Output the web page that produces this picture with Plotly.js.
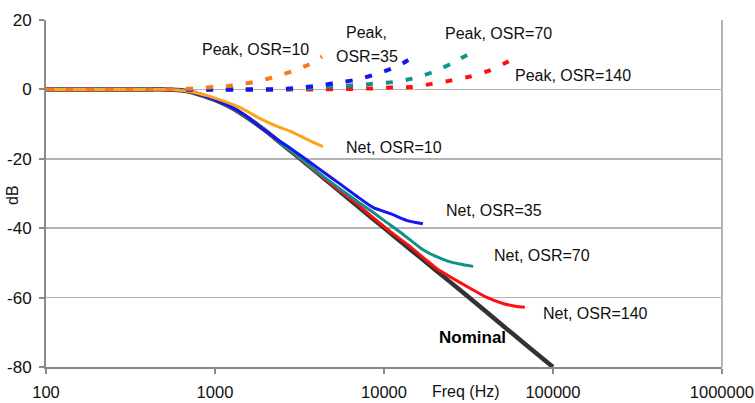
<!DOCTYPE html>
<html>
<head>
<meta charset="utf-8">
<script src="https://cdn.plot.ly/plotly-3.0.1.min.js"></script>
<style>
  html, body { margin: 0; padding: 0; background: #ffffff; }
  #chart { width: 755px; height: 403px; }
</style>
</head>
<body>
<div id="chart"></div>
<script>
// ---- Data ----
const nominalFreq = [100, 200, 300, 400, 500, 600, 700, 800, 900, 1000, 1200, 1500, 2000, 2500, 3000, 4000, 5000, 7000, 10000, 15000, 20000, 30000, 50000, 70000, 100000];
const nominalDb   = [0, 0, 0, 0, 0, -0.2, -0.6, -1.4, -2.2, -3.0, -4.8, -7.6, -12.0, -15.8, -18.9, -23.9, -27.8, -33.7, -39.9, -46.9, -51.9, -58.9, -67.9, -73.8, -80.0];

const net10Freq = [100, 200, 300, 400, 500, 600, 700, 800, 1000, 1400, 1850, 2400, 2800, 3500, 4350];
const net10Db   = [0, 0, 0, 0, 0, -0.2, -0.6, -1.2, -2.5, -5.2, -8.4, -10.9, -12.1, -14.4, -16.5];

const net35Freq = [100, 200, 300, 400, 500, 600, 700, 800, 1000, 1200, 1500, 1850, 2300, 2800, 3200, 4000, 5000, 5700, 7000, 8600, 10900, 13700, 17000];
const net35Db   = [0, 0, 0, 0, 0, -0.2, -0.6, -1.4, -3.0, -4.7, -7.4, -10.8, -14.2, -17.0, -19.0, -22.4, -25.8, -27.8, -31.0, -34.0, -35.8, -37.8, -38.7];

const net70Freq = [100, 200, 300, 400, 500, 600, 700, 800, 1000, 1200, 1500, 2000, 2500, 3000, 4000, 5500, 7000, 8600, 10900, 13000, 17000, 20000, 23600, 28000, 33700];
const net70Db   = [0, 0, 0, 0, 0, -0.2, -0.6, -1.4, -3.0, -4.8, -7.6, -12.0, -15.8, -18.8, -23.7, -28.7, -32.4, -35.4, -39.1, -41.8, -46.2, -48.0, -49.4, -50.3, -51.0];

const net140Freq = [100, 200, 300, 400, 500, 600, 700, 800, 1000, 1200, 1500, 2000, 2500, 3000, 4000, 5500, 7000, 8600, 10900, 13700, 17900, 21000, 25600, 32300, 40000, 50600, 60000, 68200];
const net140Db   = [0, 0, 0, 0, 0, -0.2, -0.6, -1.4, -3.0, -4.8, -7.6, -12.0, -15.8, -18.9, -23.9, -29.3, -33.2, -36.9, -41.0, -44.6, -49.3, -52.0, -54.5, -57.3, -59.8, -61.7, -62.5, -62.8];

const peak10Freq = [100, 200, 300, 400, 500, 600, 700, 800, 1000, 1200, 1400, 1850, 2400, 3000, 3600, 4300];
const peak10Db   = [0, 0, 0, 0, 0, 0.1, 0.2, 0.4, 0.7, 1.0, 1.4, 2.5, 4.0, 5.6, 7.2, 9.5];

const peak35Freq = [100, 200, 300, 400, 500, 700, 1000, 1500, 1850, 2400, 3000, 4000, 5200, 6700, 8600, 11100, 13000, 15500];
const peak35Db   = [0, 0, 0, 0, 0, 0, 0, 0, 0, 0, 0.4, 1.0, 1.9, 2.7, 4.1, 6.0, 7.6, 9.8];

const peak70Freq = [100, 200, 300, 400, 500, 700, 1000, 1500, 2000, 3000, 4000, 5100, 6700, 8600, 11300, 14700, 19200, 25200, 32300];
const peak70Db   = [0, 0, 0, 0, 0, 0, 0, 0, 0, 0.1, 0.5, 0.9, 1.2, 1.6, 2.1, 3.1, 4.9, 7.5, 10.4];

const peak140Freq = [100, 200, 300, 400, 500, 700, 1000, 1500, 2000, 3000, 4000, 6000, 8850, 11300, 14700, 19200, 25200, 32300, 42400, 54200, 57000];
const peak140Db   = [0, 0, 0, 0, 0, 0, 0, 0, 0, 0, 0, 0.1, 0.3, 0.6, 0.7, 1.6, 2.6, 3.7, 5.5, 8.0, 8.6];

const xTickVals = [100, 1000, 10000, 100000, 1000000];
const xTickText = ['100', '1000', '10000', '100000', '1000000'];
const yTickVals = [-80, -60, -40, -20, 0, 20];
const yTickText = ['-80', '-60', '-40', '-20', '0', '20'];

// ---- Styles ----
const C = {
  nominal: '#333333',
  orangeNet: '#FFA31A',
  orangePeak: '#F47A20',
  blue: '#1515F0',
  teal: '#11918A',
  red: '#FF1010'
};
const DASH = '7px,13px';

function solid(x, y, color, width) {
  return { type: 'scatter', mode: 'lines', x: x, y: y, hoverinfo: 'skip',
           line: { color: color, width: width, shape: 'spline', smoothing: 0.6 } };
}
function dashed(x, y, color) {
  return { type: 'scatter', mode: 'lines', x: x, y: y, hoverinfo: 'skip',
           line: { color: color, width: 4, dash: DASH, shape: 'spline', smoothing: 0.6 } };
}

const traces = [
  solid(nominalFreq, nominalDb, C.nominal, 4.5),
  solid(net140Freq, net140Db, C.red, 3),
  solid(net70Freq, net70Db, C.teal, 3),
  solid(net35Freq, net35Db, C.blue, 3),
  solid(net10Freq, net10Db, C.orangeNet, 3),
  dashed(peak140Freq, peak140Db, C.red),
  dashed(peak70Freq, peak70Db, C.teal),
  dashed(peak35Freq, peak35Db, C.blue),
  dashed(peak10Freq, peak10Db, C.orangePeak)
];

const L = 46, R = 722, T = 20, B = 367;
function px(x) { return (x - L) / (R - L); }
function py(y) { return (B - y) / (B - T); }
const font = { family: 'Liberation Sans, Arial, sans-serif', size: 16, color: '#111111' };
function label(text, cx, cy, extra) {
  return Object.assign({ text: text, xref: 'paper', yref: 'paper', x: px(cx), y: py(cy),
    xanchor: 'center', yanchor: 'middle', showarrow: false, font: font }, extra || {});
}

const annotations = [
  label('Peak, OSR=10', 256, 49),
  label('Peak,', 366, 32),
  label('OSR=35', 367, 57),
  label('Peak, OSR=70', 498, 33),
  label('Peak, OSR=140', 573, 75),
  label('Net, OSR=10', 394, 147),
  label('Net, OSR=35', 494, 210),
  label('Net, OSR=70', 542, 255),
  label('Net, OSR=140', 595, 313),
  label('<b>Nominal</b>', 472, 337, { font: { family: font.family, size: 17, color: '#000000' } }),
  label('Freq (Hz)', 466, 391),
  label('dB', 12, 195, { textangle: -90 })
];

const layout = {
  width: 755, height: 403,
  margin: { l: L, r: 755 - R, t: T, b: 403 - B, pad: 0 },
  paper_bgcolor: '#ffffff', plot_bgcolor: '#ffffff',
  showlegend: false,
  font: font,
  xaxis: {
    type: 'log', range: [2, 6.0004], fixedrange: true,
    tickmode: 'array', tickvals: xTickVals, ticktext: xTickText,
    showgrid: false, zeroline: false,
    showline: true, linecolor: '#8a8a8a', linewidth: 2,
    ticks: 'outside', ticklen: 5, tickwidth: 2, tickcolor: '#8a8a8a',
    tickfont: { family: font.family, size: 16.5, color: '#111111' },
    ticklabelstandoff: 4, ticklabeloverflow: 'allow'
  },
  yaxis: {
    range: [-80, 20], fixedrange: true,
    tickmode: 'array', tickvals: yTickVals, ticktext: yTickText,
    showgrid: true, gridcolor: '#b4b4b4', gridwidth: 1.5, zeroline: false,
    showline: true, linecolor: '#8a8a8a', linewidth: 2,
    ticks: 'outside', ticklen: 5, tickwidth: 2, tickcolor: '#8a8a8a',
    tickfont: { family: font.family, size: 17, color: '#111111' },
    ticklabelstandoff: 4
  },
  shapes: [
    { type: 'line', xref: 'paper', yref: 'paper', x0: 1, x1: 1, y0: 0, y1: 1,
      line: { color: '#b4b4b4', width: 2 }, layer: 'below' }
  ],
  annotations: annotations
};

Plotly.newPlot('chart', traces, layout, { displayModeBar: false, staticPlot: true });
</script>
</body>
</html>
